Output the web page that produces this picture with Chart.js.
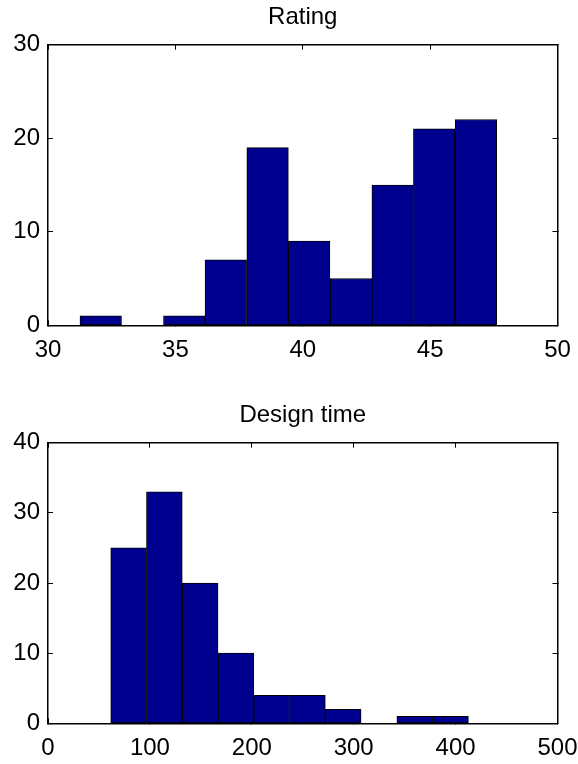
<!DOCTYPE html>
<html>
<head>
<meta charset="utf-8">
<script src="https://cdn.jsdelivr.net/npm/chart.js@4"></script>
<style>
  html, body { margin: 0; padding: 0; background: #fff; }
  #wrap { position: relative; width: 578px; height: 764px; }
  canvas { position: absolute; left: 0; }
  #ratingChart { top: 0; }
  #timeChart { top: 398px; }
</style>
</head>
<body>
<div id="wrap">
  <canvas id="ratingChart" width="578" height="366"></canvas>
  <canvas id="timeChart" width="578" height="366"></canvas>
</div>
<script>
// rating histogram (bin centres)
const ratingCenters = [32.07, 33.71, 35.35, 36.98, 38.62, 40.25, 41.89, 43.53, 45.16, 46.80];
const ratingCounts = [1, 0, 1, 7, 19, 9, 5, 15, 21, 22];
const ratingXTicks = [30, 50, 5];
const ratingYTicks = [0, 30, 10];

// design time histogram
const timeCenters = [79.1, 114.2, 149.3, 184.4, 219.5, 254.6, 289.7, 324.8, 359.9, 395.0];
const timeCounts = [25, 33, 20, 10, 4, 4, 2, 0, 1, 1];
const timeXTicks = [0, 500, 100];
const timeYTicks = [0, 40, 10];

const FONT = { family: "'Liberation Sans', Arial, Helvetica, sans-serif", size: 24 };
Chart.defaults.color = "#000";

function axis(pos, range, fitFn) {
  const horiz = pos === "bottom" || pos === "top";
  const main = pos === "bottom" || pos === "left";
  return {
    type: "linear",
    position: pos,
    min: range[0],
    max: range[1],
    offset: false,
    ticks: {
      display: main,
      stepSize: range[2],
      font: FONT,
      color: "#000",
      padding: horiz ? 16 : 13
    },
    grid: {
      display: true,
      offset: false,
      drawOnChartArea: false,
      drawTicks: true,
      tickLength: -5,
      color: "#000",
      lineWidth: 1
    },
    border: { display: true, color: "#000", width: 1.5 },
    afterFit: fitFn
  };
}

function histogram(id, title, centers, counts, xr, yr) {
  const ctx = document.getElementById(id).getContext("2d");
  return new Chart(ctx, {
    type: "bar",
    data: {
      datasets: [
        {
          data: centers.map((c, i) => ({ x: c, y: counts[i] })),
          backgroundColor: "#00008f",
          borderColor: "#000",
          borderWidth: 1,
          borderSkipped: false,
          barPercentage: 1,
          categoryPercentage: 1,
          xAxisID: "x",
          yAxisID: "y"
        }
      ]
    },
    options: {
      responsive: false,
      animation: false,
      layout: { padding: { top: 0, left: 0, right: 20.5, bottom: 0 } },
      plugins: {
        legend: { display: false },
        tooltip: { enabled: false },
        title: {
          display: true,
          fullSize: false,
          text: title,
          font: { family: FONT.family, size: 24, weight: "normal" },
          color: "#000",
          padding: { top: 3, bottom: 12.9 }
        }
      },
      scales: {
        x: axis("bottom", xr, s => { s.height = 40.7; s.paddingLeft = 0; s.paddingRight = 0; }),
        y: axis("left", yr, s => { s.width = 48; }),
        x2: axis("top", xr, s => { s.height = 0; s.paddingLeft = 0; s.paddingRight = 0; }),
        y2: axis("right", yr, s => { s.width = 0; })
      }
    }
  });
}

histogram("ratingChart", "Rating", ratingCenters, ratingCounts, ratingXTicks, ratingYTicks);
histogram("timeChart", "Design time", timeCenters, timeCounts, timeXTicks, timeYTicks);
</script>
</body>
</html>
